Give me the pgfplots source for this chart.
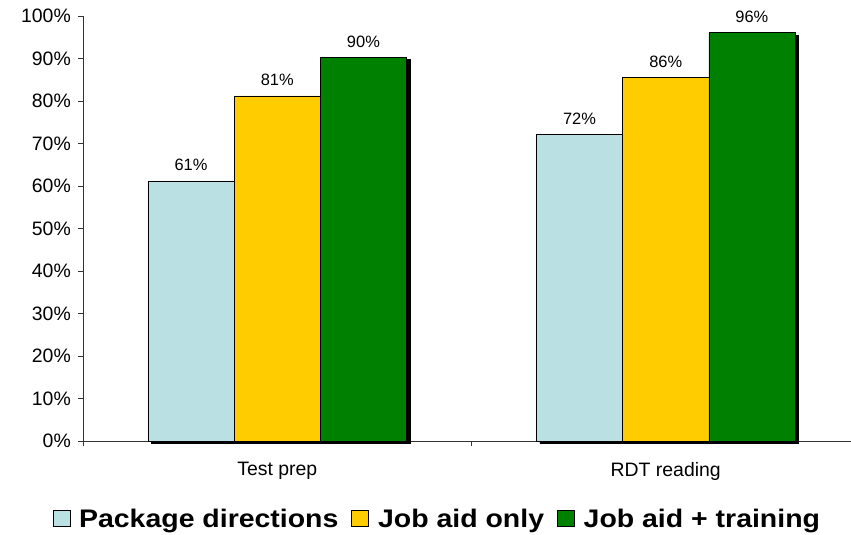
\documentclass[border=0pt]{standalone}
\usepackage{pgfplots}
\pgfplotsset{compat=1.18}
\usepackage{fontspec}
\setmainfont{Liberation Sans}
\newfontfamily\legendfont{Liberation Sans}[FakeStretch=1.12]
\usetikzlibrary{shadows}
\definecolor{cblue}{RGB}{187,224,227}
\definecolor{cyellow}{RGB}{255,204,0}
\definecolor{cgreen}{RGB}{0,128,0}
\pgfplotsset{
  mylegend/.style={legend image code/.code={\draw[##1] (0bp,-7bp) rectangle (17bp,9bp);}},
  myshadow/.style={drop shadow={shadow xshift=3.5bp, shadow yshift=-2.5bp, fill=black, opacity=1}},
}
\begin{document}
\begin{tikzpicture}[x=1bp,y=1bp]
\useasboundingbox (-83bp,-94bp) rectangle (768bp,441bp);
\begin{axis}[
  at={(0,0)}, anchor=south west,
  scale only axis, width=768bp, height=425bp,
  xmin=-0.5, xmax=1.477, ymin=0, ymax=100,
  axis x line=bottom, axis y line=left,
  axis line style={-, black!80, line width=0.8bp},
  clip=false,
  bar width=0.222,
  xtick={0,1}, xticklabels={Test prep, RDT reading},
  minor xtick={-0.5,0.5,1.5},
  major x tick style={draw=none},
  minor x tick style={draw=black!80, line width=0.8bp},
  ytick={0,10,...,100},
  yticklabel={\pgfmathprintnumber{\tick}\%},
  y tick style={draw=black!80, line width=0.8bp},
  tick align=outside, major tick length=5bp, minor tick length=5bp,
  /pgf/number format/assume math mode=true,
  tick label style={font=\fontsize{19.5}{23}\selectfont},
  yticklabel style={inner sep=0pt, anchor=east, xshift=-7bp},
  xticklabel style={inner sep=0pt, anchor=north, yshift=-16bp},
  nodes near coords={\pgfmathprintnumber[fixed,precision=0]{\pgfplotspointmeta}\%},
  every node near coord/.append style={font=\fontsize{16.5}{20}\selectfont, anchor=south, inner sep=0pt, yshift=9.5bp},
  legend style={draw=none, fill=none, at={(0.46,-0.184)}, anchor=center,
    legend columns=3, font=\legendfont\bfseries\fontsize{25.5}{30}\selectfont,
    nodes={inner sep=0pt},
    /tikz/every odd column/.append style={column sep=9bp},
    /tikz/every even column/.append style={column sep=13bp}},
  legend cell align=left,
]
\addplot[ybar, bar shift=-0.222, fill=cblue, draw=black, line width=0.6bp, myshadow, forget plot,
  every node near coord/.append style={xshift=-86.2bp}]
  coordinates {(0,61.2) (1,72.2)};
\addplot[ybar, bar shift=0, fill=cyellow, draw=black, line width=0.6bp, myshadow, forget plot]
  coordinates {(0,81.2) (1,85.6)};
\addplot[ybar, bar shift=0.222, fill=cgreen, draw=black, line width=0.6bp, myshadow, forget plot,
  every node near coord/.append style={xshift=86.2bp}]
  coordinates {(0,90.3) (1,96.1)};
\addlegendimage{mylegend, fill=cblue, draw=black, line width=0.6bp}
\addlegendentry{Package directions}
\addlegendimage{mylegend, fill=cyellow, draw=black, line width=0.6bp}
\addlegendentry{Job aid only}
\addlegendimage{mylegend, fill=cgreen, draw=black, line width=0.6bp}
\addlegendentry{Job aid + training}
\end{axis}
\end{tikzpicture}
\end{document}
